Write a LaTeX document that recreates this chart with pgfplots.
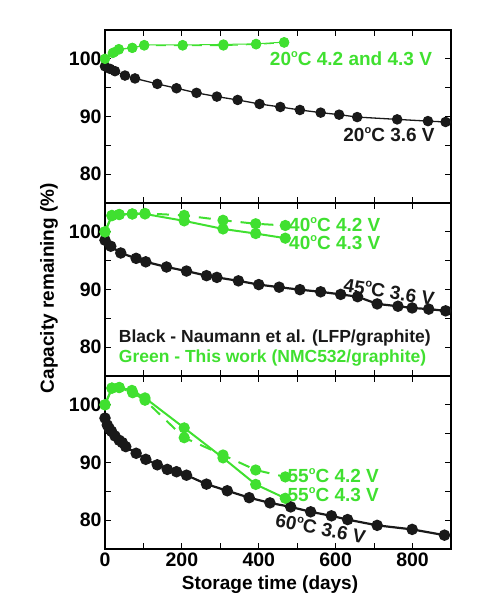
\documentclass[border=0pt]{standalone}
\usepackage{fontspec}
\setmainfont{Liberation Sans}
\usepackage{pgfplots}
\pgfplotsset{compat=1.18}

\definecolor{cgreen}{RGB}{64,224,48}
\definecolor{cblack}{RGB}{25,25,25}

\newcommand{\dg}{\raisebox{0.8ex}{\fontsize{11}{11}\selectfont o}}
\tikzset{ann/.style={font=\fontsize{19}{21}\selectfont\bfseries}}

\pgfplotsset{
  panel/.style={
    scale only axis,
    width=346pt, height=173pt,
    anchor=south west,
    xmin=0, xmax=900, ymin=75, ymax=105,
    xtick={0,200,...,800},
    minor xtick={100,300,...,900},
    ytick={80,90,100},
    minor ytick={85,95},
    tick align=inside,
    major tick length=6pt, minor tick length=6pt,
    every tick/.style={line width=1.1pt, black},
    axis line style={line width=1.2pt},
    /pgf/number format/assume math mode=true,
    ticklabel style={font=\fontsize{19.5}{21}\selectfont\bfseries},
    clip=false,
  },
  blk/.style={cblack, mark=*, mark size=4.6pt, mark options={fill=cblack, draw=cblack}},
  grn/.style={cgreen, mark=*, mark size=4.6pt, mark options={solid, fill=cgreen, draw=cgreen}},
}

\begin{document}
\begin{tikzpicture}
\path[use as bounding box] (0,0) rectangle (480pt,600pt);

% top panel: 20 C
\begin{axis}[panel, at={(105pt,397pt)}, xticklabels={}]
\addplot[blk, line width=1.3pt] coordinates {
 (0,98.7) (13,98.26) (26,97.86) (52,97.1) (78,96.6) (136,95.65) (186,94.9)
 (238,94.1) (291,93.45) (345,92.87) (402,92.17) (456,91.65) (507,91.13)
 (561,90.67) (609,90.32) (656,89.9) (760,89.5) (840,89.2) (886,89.05)};
\addplot[grn, line width=1pt, dash pattern=on 10pt off 8pt] coordinates {
 (0,100) (20,101.0) (36,101.6) (71,101.9) (102,102.3) (202,102.3)
 (308,102.3) (393,102.5) (466,102.8)};
\addplot[grn, line width=1pt] coordinates {
 (0,100) (24,101.15) (36,101.7) (71,101.9) (102,102.4) (202,102.4)
 (308,102.5) (393,102.6) (466,102.9)};
\node[ann, text=cgreen, anchor=west] at (axis cs:420,100) {20\dg C 4.2 and 4.3 V};
\node[ann, text=cblack, anchor=west] at (axis cs:611,86.8) {20\dg C 3.6 V};
\end{axis}

% middle panel: 40/45 C
\begin{axis}[panel, at={(105pt,224pt)}, xticklabels={}]
\addplot[blk, line width=2.2pt] coordinates {
 (0,98.55) (15,97.5) (41,96.33) (81,95.4) (106,94.8) (160,93.9) (212,93.2)
 (264,92.4) (291,92.1) (347,91.5) (400,90.85) (453,90.4) (507,89.97)
 (561,89.6) (613,89.15) (657,88.75) (708,87.5) (762,87.1) (799,86.8)
 (842,86.6) (886,86.3)};
\addplot[grn, line width=2pt, dash pattern=on 12pt off 9pt] coordinates {
 (0,100) (18,102.85) (37,103.0) (71,103.1) (104,103.2) (206,102.85)
 (307,102.0) (392,101.4) (469,101.1)};
\addplot[grn, line width=2pt] coordinates {
 (0,100) (18,102.8) (37,103.0) (71,103.1) (104,103.1) (206,101.9)
 (307,100.5) (392,99.7) (469,98.9)};
\node[ann, text=cgreen, anchor=west] at (axis cs:470,101.3) {40\dg C 4.2 V};
\node[ann, text=cgreen, anchor=west] at (axis cs:470,98.1) {40\dg C 4.3 V};
\node[ann, text=cblack, rotate=-9] at (axis cs:739,89.6) {45\dg C 3.6 V};
\node[font=\fontsize{17.5}{19}\selectfont\bfseries, text=cblack, anchor=west] at (axis cs:27,81.55) {Black - Naumann et al. (LFP/graphite)};
\node[font=\fontsize{17.5}{19}\selectfont\bfseries, text=cgreen, anchor=west] at (axis cs:27,78.06) {Green - This work (NMC532/graphite)};
\end{axis}

% bottom panel: 55/60 C
\begin{axis}[panel, at={(105pt,51pt)}]
\addplot[blk, line width=2.2pt] coordinates {
 (0,97.7) (6,96.5) (11,95.9) (17,95.4) (26,94.6) (37,93.85) (45,93.45)
 (54,92.75) (81,91.6) (106,90.55) (136,89.6) (162,88.8) (186,88.4)
 (212,87.8) (264,86.25) (318,85.1) (375,83.9) (429,83.0) (483,82.3)
 (535,81.45) (589,80.75) (631,80.1) (708,79.1) (799,78.4) (883,77.4)};
\addplot[grn, line width=2pt, dash pattern=on 12pt off 9pt] coordinates {
 (0,100) (18,102.9) (37,103.0) (72,102.1) (104,100.8) (206,94.3)
 (307,91.3) (392,88.7) (469,87.5)};
\addplot[grn, line width=2pt] coordinates {
 (0,100) (18,102.9) (37,103.0) (70,102.5) (104,101.2) (206,96.0)
 (307,90.8) (392,86.2) (469,83.8)};
\node[ann, text=cgreen, anchor=west] at (axis cs:466,87.8) {55\dg C 4.2 V};
\node[ann, text=cgreen, anchor=west] at (axis cs:466,84.5) {55\dg C 4.3 V};
\node[ann, text=cblack, rotate=-11] at (axis cs:561,78.6) {60\dg C 3.6 V};
\end{axis}

\node[font=\fontsize{19}{21}\selectfont\bfseries, rotate=90] at (49pt,312pt) {Capacity remaining (\%)};
\node[font=\fontsize{19}{21}\selectfont\bfseries] at (270pt,15pt) {Storage time (days)};
\end{tikzpicture}
\end{document}
